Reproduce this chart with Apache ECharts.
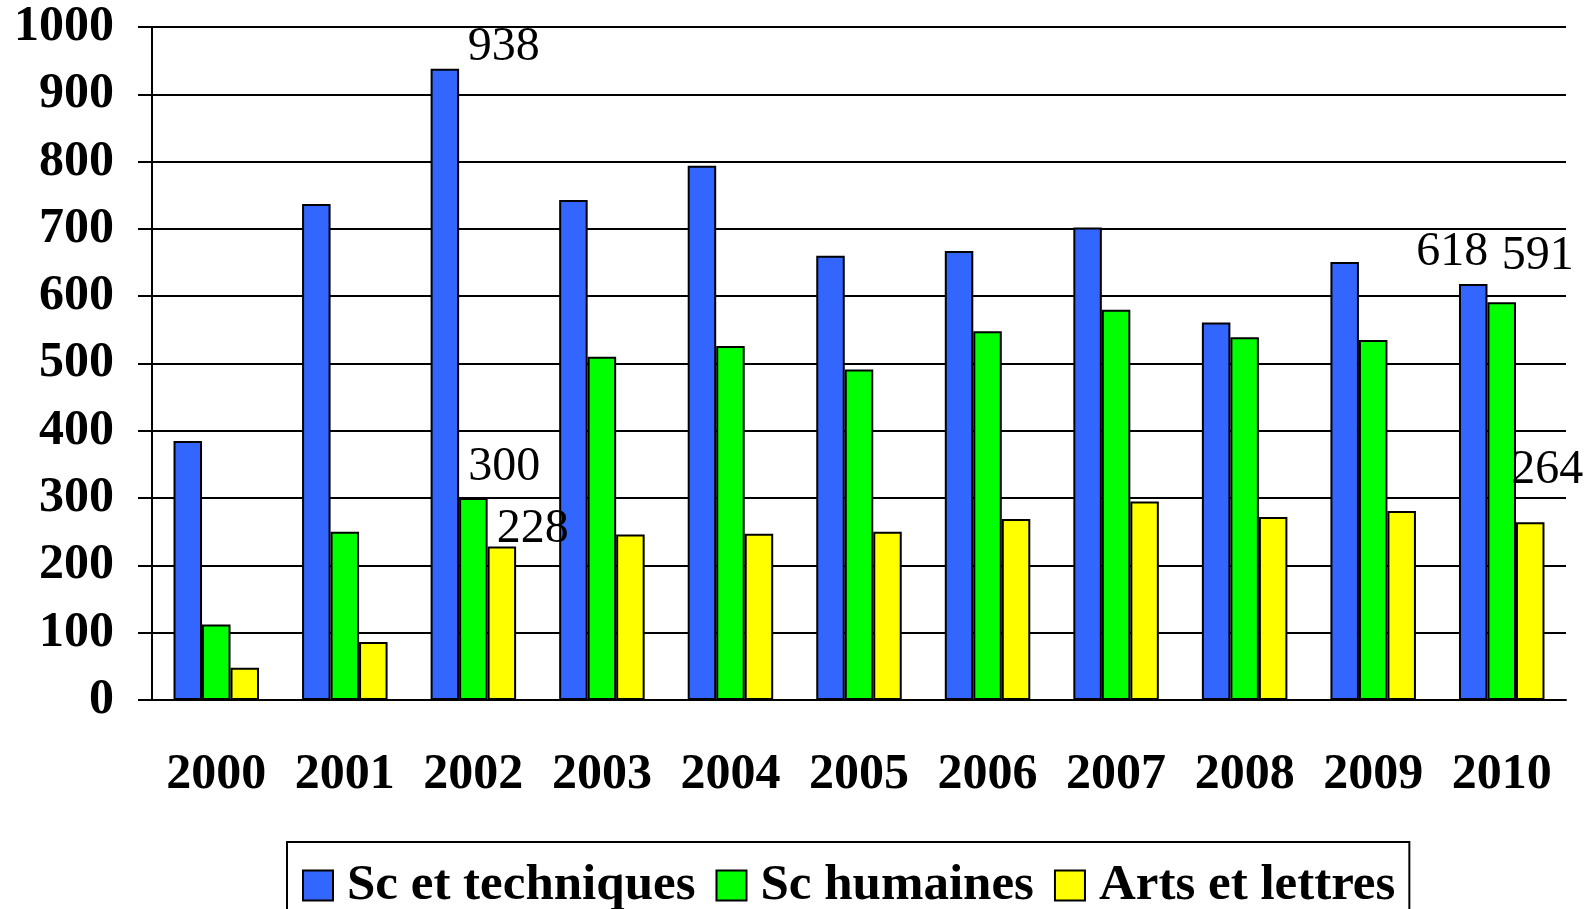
<!DOCTYPE html>
<html lang="fr">
<head>
    <meta charset="utf-8" />
    <title>Sc et techniques / Sc humaines / Arts et lettres</title>
    <script src="https://cdn.jsdelivr.net/npm/echarts@6/dist/echarts.min.js"></script>
    <style>
        html, body, #main {
            width: 100%;
            height: 100%;
            padding: 0;
            margin: 0;
            background: #fff;
        }
    </style>
</head>
<body>
<div id="main"></div>
<script>
    var years = ['2000', '2001', '2002', '2003', '2004', '2005', '2006', '2007', '2008', '2009', '2010'];
    var sciTech = [385, 737, 938, 743, 794, 660, 667, 702, 561, 651, 618];
    var sciHum = [112, 250, 300, 510, 526, 491, 548, 580, 539, 535, 591];
    var arts = [48, 86, 228, 246, 247, 250, 269, 295, 272, 281, 264];

    var font = '"Liberation Serif", "Times New Roman", serif';

    // which bars carry a value label, with the hand-placed offset [dx, dy]
    var labelOffsets = {
        sciTech: { 2: [59, 8], 10: [-21, -3] },
        sciHum: { 2: [31, -2], 10: [36, -17] },
        arts: { 2: [31, 12], 10: [17, -23] }
    };

    function withLabels(values, offsets) {
        return values.map(function (v, i) {
            if (!offsets[i]) return v;
            return {
                value: v,
                label: {
                    show: true,
                    position: 'top',
                    offset: offsets[i],
                    fontFamily: font,
                    fontSize: 48,
                    color: '#000'
                }
            };
        });
    }

    function bar(name, values, color, offsets) {
        return {
            name: name,
            type: 'bar',
            barWidth: 28.5,
            barGap: '0%',
            data: withLabels(values, offsets),
            itemStyle: { color: color, borderColor: '#000', borderWidth: 2 },
            label: { show: false },
            emphasis: { disabled: true },
            animation: false
        };
    }

    var myChart = echarts.init(document.getElementById('main'));
    myChart.setOption({
        backgroundColor: '#fff',
        grid: { left: 152, right: 18, top: 27, bottom: 209 },
        legend: {
            left: 287,
            top: 842,
            padding: [18, 14, 18, 15],
            icon: 'rect',
            itemWidth: 30,
            itemHeight: 30,
            itemGap: 20,
            borderColor: '#000',
            borderWidth: 2,
            textStyle: {
                fontFamily: font,
                fontWeight: 'bold',
                fontSize: 51,
                color: '#000',
                padding: [0, 0, 0, 9]
            },
            data: ['Sc et techniques', 'Sc humaines', 'Arts et lettres']
        },
        xAxis: {
            type: 'category',
            data: years,
            axisLine: { lineStyle: { color: '#000', width: 2 } },
            axisTick: { length: 16, lineStyle: { color: '#000', width: 2 } },
            axisLabel: {
                interval: 0,
                hideOverlap: false,
                margin: 50,
                fontFamily: font,
                fontWeight: 'bold',
                fontSize: 50,
                color: '#000'
            }
        },
        yAxis: {
            type: 'value',
            min: 0,
            max: 1000,
            interval: 100,
            axisLine: { show: true, lineStyle: { color: '#000', width: 2 } },
            axisTick: { show: true, length: 14, lineStyle: { color: '#000', width: 2 } },
            splitLine: { lineStyle: { color: '#000', width: 2 } },
            axisLabel: {
                margin: 38,
                fontFamily: font,
                fontWeight: 'bold',
                fontSize: 50,
                color: '#000',
                formatter: function (v) { return String(v); }
            }
        },
        series: [
            bar('Sc et techniques', sciTech, '#3366FF', labelOffsets.sciTech),
            bar('Sc humaines', sciHum, '#00FF00', labelOffsets.sciHum),
            bar('Arts et lettres', arts, '#FFFF00', labelOffsets.arts)
        ]
    });
</script>
</body>
</html>
